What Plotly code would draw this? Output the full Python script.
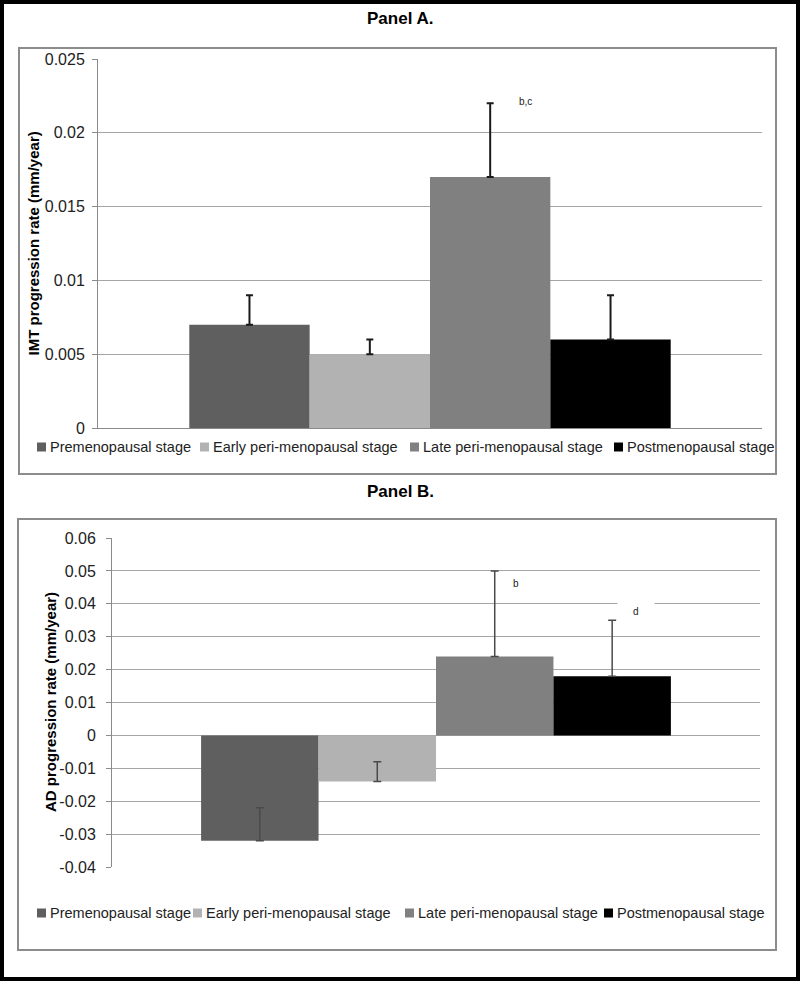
import plotly.graph_objects as go

categories = ["Premenopausal stage", "Early peri-menopausal stage",
              "Late peri-menopausal stage", "Postmenopausal stage"]
colors = ["#5f5f5f", "#b2b2b2", "#808080", "#000000"]

imt_values = [0.007, 0.005, 0.017, 0.006]
imt_errors = [0.002, 0.001, 0.005, 0.003]

ad_values = [-0.032, -0.014, 0.024, 0.018]
ad_errors = [0.010, 0.006, 0.026, 0.017]

imt_ticks = [0, 0.005, 0.01, 0.015, 0.02, 0.025]
imt_ticktext = ["0", "0.005", "0.01", "0.015", "0.02", "0.025"]
ad_ticks = [-0.04, -0.03, -0.02, -0.01, 0, 0.01, 0.02, 0.03, 0.04, 0.05, 0.06]
ad_ticktext = ["-0.04", "-0.03", "-0.02", "-0.01", "0", "0.01", "0.02", "0.03", "0.04", "0.05", "0.06"]

W, H = 800, 981
FONT = "Liberation Sans, Arial, sans-serif"

def px_x(v):
    return v / W

def px_y(v):
    return 1 - v / H

fig = go.Figure()

for i, (cat, col) in enumerate(zip(categories, colors)):
    fig.add_trace(go.Bar(
        x=["A"], y=[imt_values[i]], name=cat, marker=dict(color=col, line=dict(width=0)),
        error_y=dict(type="data", array=[imt_errors[i]], arrayminus=[0], symmetric=False,
                     color="#1a1a1a", thickness=2, width=3.5),
        xaxis="x", yaxis="y", showlegend=False, hoverinfo="skip"))
for i, (cat, col) in enumerate(zip(categories, colors)):
    fig.add_trace(go.Bar(
        x=["B"], y=[ad_values[i]], name=cat, marker=dict(color=col, line=dict(width=0)),
        error_y=dict(type="data", array=[ad_errors[i]], arrayminus=[0], symmetric=False,
                     color="#4a4a4a", thickness=1.5, width=4),
        xaxis="x2", yaxis="y2", showlegend=False, hoverinfo="skip"))

axis_common = dict(showgrid=True, gridcolor="#a6a6a6", gridwidth=1, showline=True,
                   linecolor="#8a8a8a", ticks="outside", ticklen=5, tickcolor="#8a8a8a",
                   zeroline=False, automargin=False,
                   tickfont=dict(family=FONT, size=16, color="#222"))

fig.update_layout(
    template="none",
    width=W, height=H,
    margin=dict(l=0, r=0, t=0, b=0, pad=0, autoexpand=False),
    paper_bgcolor="white", plot_bgcolor="white",
    barmode="group", bargap=0.275, bargroupgap=0,
    font=dict(family=FONT, size=15, color="#222"),
    showlegend=False,
    xaxis=dict(domain=[px_x(98), px_x(762)], anchor="y", showticklabels=False,
               showgrid=False, showline=True, linecolor="#8a8a8a", linewidth=1,
               ticks="", zeroline=False, automargin=False),
    yaxis=dict(domain=[px_y(428), px_y(59)], anchor="x", range=[0, 0.025],
               tickvals=imt_ticks, ticktext=imt_ticktext, ticklabelstandoff=4,
               **axis_common),
    xaxis2=dict(domain=[px_x(112), px_x(760)], anchor="y2", showticklabels=False,
                showgrid=False, showline=False, ticks="", zeroline=False, automargin=False),
    yaxis2=dict(domain=[px_y(867), px_y(538)], anchor="x2", range=[-0.04, 0.06],
                tickvals=ad_ticks, ticktext=ad_ticktext, ticklabelstandoff=7,
                **axis_common),
)

shapes = [
    dict(type="rect", xref="paper", yref="paper", x0=0, x1=1, y0=0, y1=1,
         line=dict(color="black", width=8), fillcolor="rgba(0,0,0,0)", layer="above"),
    dict(type="rect", xref="paper", yref="paper", x0=px_x(19), x1=px_x(776),
         y0=px_y(474), y1=px_y(48), line=dict(color="#8c8c8c", width=2),
         fillcolor="rgba(0,0,0,0)", layer="above"),
    dict(type="rect", xref="paper", yref="paper", x0=px_x(18), x1=px_x(776),
         y0=px_y(950), y1=px_y(519), line=dict(color="#8c8c8c", width=2),
         fillcolor="rgba(0,0,0,0)", layer="above"),
]

def ann(text, x, y, yref="paper", size=10, color="#222", xanchor="center", **kw):
    d = dict(text=text, x=x, y=y, xref="paper", yref=yref, showarrow=False,
             xanchor=xanchor, yanchor="middle",
             font=dict(family=FONT, size=size, color=color))
    d.update(kw)
    return d

annotations = [
    ann("<b>Panel A.</b>", 0.5, px_y(18), size=17, color="black"),
    ann("<b>Panel B.</b>", 0.5, px_y(491), size=17, color="black"),
    ann("<b>IMT progression rate (mm/year)</b>", px_x(33), px_y(243.5), size=15,
        color="black", textangle=-90),
    ann("<b>AD progression rate (mm/year)</b>", px_x(50), px_y(702), size=15,
        color="black", textangle=-90),
    ann("b,c", px_x(525), 0.0221, yref="y", bgcolor="white"),
    ann("b", px_x(516), 0.0463, yref="y2", bgcolor="white"),
    ann("d", px_x(636), 0.0378, yref="y2", bgcolor="white", borderpad=15),
]

# legend rows (one per panel), colours and labels from the series lists
legend_rows = [([48, 211, 421, 625], 447), ([48, 204, 416, 615], 913)]
for text_x, ty in legend_rows:
    for cat, col, tx in zip(categories, colors, text_x):
        shapes.append(dict(type="rect", xref="paper", yref="paper",
                           x0=px_x(tx - 11), x1=px_x(tx - 2),
                           y0=px_y(ty + 4.5), y1=px_y(ty - 4.5),
                           line=dict(width=0), fillcolor=col))
        annotations.append(ann(cat, px_x(tx), px_y(ty), size=14.5, color="#222",
                               xanchor="left"))

fig.update_layout(shapes=shapes, annotations=annotations)

fig.write_html("out.html", config={"displayModeBar": False, "staticPlot": True},
               post_script="document.body.style.margin='0';document.body.style.padding='0';"
                           "document.body.style.overflow='hidden';")
